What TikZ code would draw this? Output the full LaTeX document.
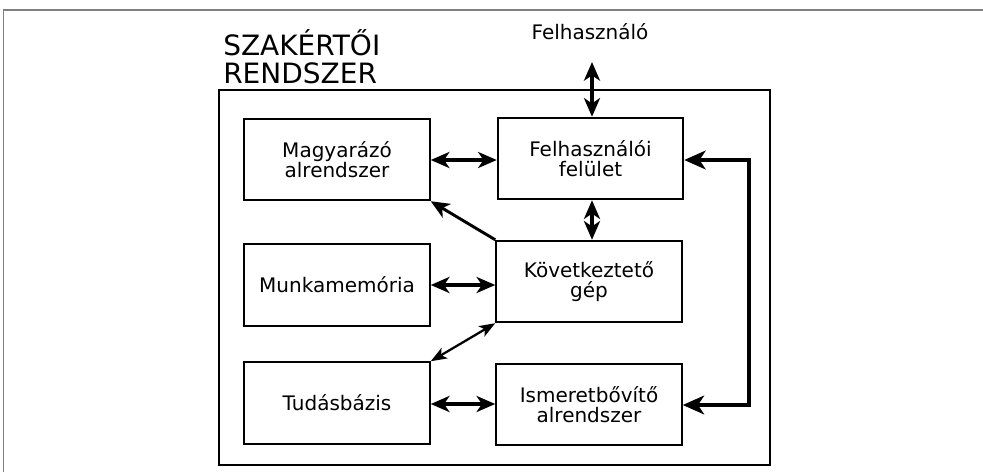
\documentclass[tikz,border=0pt]{standalone}
\usepackage{fontspec}
\setmainfont{DejaVu Sans}
\usetikzlibrary{arrows.meta,calc}
\begin{document}
\begin{tikzpicture}[x=0.75pt,y=-0.75pt,
  tipA/.tip={Stealth[length=14pt,width=12pt,inset=4pt]},
  tipB/.tip={Stealth[length=16pt,width=14pt,inset=4.5pt]},
  tipC/.tip={Stealth[length=12pt,width=9pt,inset=3pt]},
  blk/.style={draw,line width=1.6pt,minimum width=139pt,minimum height=61pt,align=center,
    font=\fontsize{15pt}{15pt}\selectfont,inner sep=0pt},
  con/.style={line width=2.6pt,tipA-tipA},
  one/.style={line width=2.2pt,-tipA},
  thin/.style={line width=1.7pt,tipC-tipC},
  loop/.style={line width=3pt,tipB-tipB,line join=miter},
  lbl/.style={font=\fontsize{15pt}{15pt}\selectfont,inner sep=0pt}]
\useasboundingbox (0,0) rectangle (983,472);
\draw[line width=1.2pt,gray] (3.5,472) -- (3.5,10) -- (983,10);
\node[anchor=base west,align=left,inner sep=0pt,font=\fontsize{21pt}{21pt}\selectfont] (title) at (223,83) {SZAKÉRTŐI\\RENDSZER};
\draw[line width=2.2pt] (219,90) rectangle (770,465);
\node[lbl] (user) at (590,32) {Felhasználó};
\node[blk] (mag) at (337,159.5) {Magyarázó\\alrendszer};
\node[blk] (fel) at (590.5,158.5) {Felhasználói\\felület};
\node[blk] (mun) at (337,285) {Munkamemória};
\node[blk] (kov) at (589,281.5) {Következtető\\gép};
\node[blk] (tud) at (337,403) {Tudásbázis};
\node[blk] (ism) at (589,404.5) {Ismeretbővítő\\alrendszer};
\coordinate (utop) at (592,62);
\coordinate (mid) at (592,0);
\coordinate (rr) at (749,0);
\draw[con] (utop) -- (utop |- fel.north);
\draw[con] (mag.east |- 0,160) -- (fel.west |- 0,160);
\draw[con] (mid |- fel.south) -- (mid |- kov.north);
\draw[one] (kov.north west) -- (mag.south east);
\draw[con] (mun.east |- 0,285) -- (kov.west |- 0,285);
\draw[thin] (kov.south west) -- (tud.north east);
\draw[con] (tud.east |- 0,404) -- (ism.west |- 0,404);
\draw[loop] (fel.east |- 0,160) -- (rr |- 0,160) -- (rr |- 0,405) -- (ism.east |- 0,405);
\end{tikzpicture}
\end{document}
